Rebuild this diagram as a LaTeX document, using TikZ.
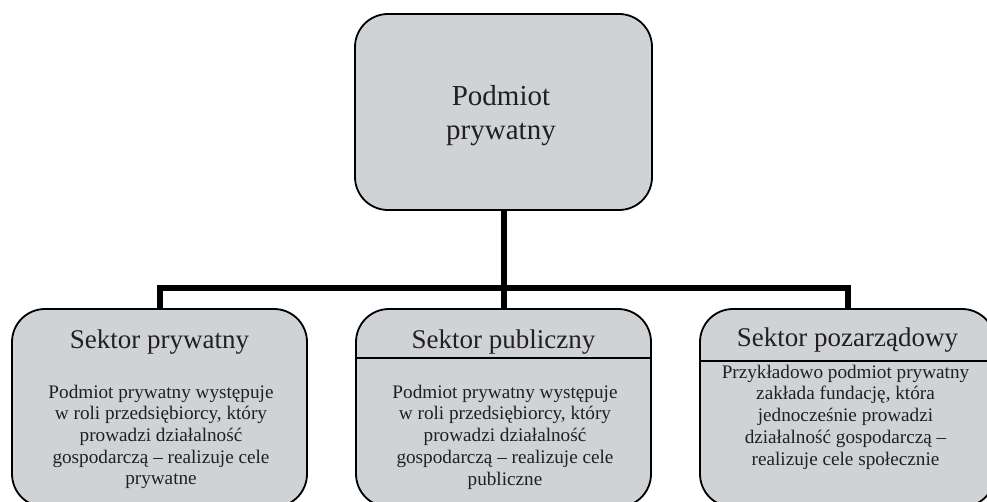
\documentclass[tikz,border=0pt]{standalone}
\usepackage{fontspec}
\setmainfont{Liberation Serif}
\definecolor{boxfill}{RGB}{208,211,214}
\definecolor{txt}{RGB}{35,31,32}
\begin{document}
\begin{tikzpicture}[x=1pt,y=-1pt,
  box/.style={draw=black, line width=1.8pt, fill=boxfill, rounded corners=33pt, rectangle, inner sep=0pt},
  link/.style={line width=6pt, line join=miter, draw=black},
  divider/.style={line width=1.4pt, draw=black},
  title/.style={text=txt, font=\fontsize{27}{34}\selectfont, align=center, inner sep=0pt},
  bigtitle/.style={text=txt, font=\fontsize{29}{34}\selectfont, align=center, inner sep=0pt},
  body/.style={text=txt, font=\fontsize{19.2}{21.7}\selectfont, align=center, inner sep=0pt}]
\useasboundingbox (0,0) rectangle (987,502);
\clip (0,0) rectangle (987,502);
% boxes
\node[box, minimum width=297pt, minimum height=196pt] (top) at (503.5,112) {};
\node[box, minimum width=295pt, minimum height=198pt] (left) at (159.5,408) {};
\node[box, minimum width=295pt, minimum height=198pt] (mid) at (503.5,408) {};
\node[box, minimum width=295pt, minimum height=198pt] (right) at (847.5,408) {};
% connectors
\coordinate (hub) at (503.5,288);
\draw[link] (top.south) -- (hub);
\draw[link] (left.north) -- (left.north |- hub) -- (right.north |- hub) -- (right.north);
\draw[link] (hub) -- (mid.north);
% dividers
\coordinate (d2) at (0,358);
\coordinate (d3) at (0,361);
\draw[divider] (mid.west |- d2) -- (mid.east |- d2);
\draw[divider] (right.west |- d3) -- (right.east |- d3);
% texts
\node[bigtitle] (ttop) at (501,116) {Podmiot\\prywatny};
\node[title] (tleft) at (159.5,342) {Sektor prywatny};
\node[title] (tmid) at (503.5,342) {Sektor publiczny};
\node[title] (tright) at (847.5,340) {Sektor pozarządowy};
\node[body] (bleft) at (161,437) {Podmiot prywatny występuje\\w roli przedsiębiorcy, który\\prowadzi działalność\\gospodarczą – realizuje cele\\prywatne};
\node[body] (bmid) at (505,437) {Podmiot prywatny występuje\\w roli przedsiębiorcy, który\\prowadzi działalność\\gospodarczą – realizuje cele\\publiczne};
\node[body] (bright) at (845.5,417) {Przykładowo podmiot prywatny\\zakłada fundację, która\\jednocześnie prowadzi\\działalność gospodarczą –\\realizuje cele społecznie};
\end{tikzpicture}
\end{document}
